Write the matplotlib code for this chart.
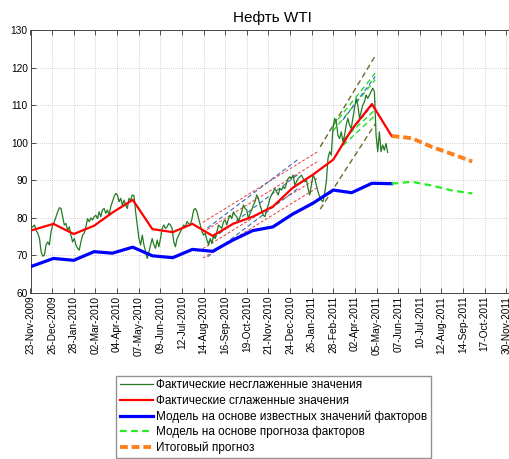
import numpy as np
import pandas as pd
import matplotlib
matplotlib.use("Agg")
import matplotlib.pyplot as plt
import matplotlib.dates as mdates

plt.rcParams['font.family'] = ['Liberation Sans', 'DejaVu Sans']

# Фактические несглаженные значения (через ~2.5 дня)
raw_start, raw_end = "2009-11-24", "2011-05-22"
raw_values = [
    77.4, 77.6, 78.1, 76.7, 75.9, 74.5, 71.0, 69.8, 70.1, 72.8, 73.6, 72.8, 76.3, 78.1, 79.0, 80.3,
    81.6, 82.7, 82.5, 80.3, 78.1, 78.5, 76.7, 77.6, 75.4, 73.6, 74.5, 72.8, 71.9, 71.4, 73.6, 75.4,
    75.9, 77.6, 79.8, 79.0, 80.0, 79.4, 80.3, 80.7, 79.8, 81.6, 80.3, 82.1, 82.5, 81.2, 82.1, 80.7,
    83.0, 84.3, 85.6, 86.5, 86.1, 84.3, 85.2, 83.4, 84.7, 83.4, 82.5, 85.2, 84.7, 86.1, 85.9, 81.6,
    78.1, 74.5, 72.8, 75.4, 72.8, 71.0, 69.2, 71.0, 72.8, 74.5, 72.8, 71.9, 74.1, 72.3, 74.5, 77.2,
    78.1, 77.2, 77.6, 78.5, 78.1, 77.2, 73.6, 72.3, 74.5, 75.4, 76.3, 77.2, 78.1, 77.6, 79.0, 78.5,
    78.1, 79.8, 82.1, 82.5, 81.6, 79.8, 78.1, 76.3, 75.4, 75.9, 74.1, 72.8, 74.5, 73.2, 75.4, 74.5,
    76.3, 78.1, 77.6, 77.2, 79.0, 79.4, 78.1, 79.8, 80.7, 79.8, 81.6, 80.7, 80.3, 79.0, 80.3, 81.6,
    83.4, 82.5, 82.1, 79.8, 81.2, 82.1, 83.4, 84.3, 86.1, 85.2, 83.4, 82.1, 80.7, 80.3, 82.1, 83.4,
    85.2, 86.1, 86.9, 87.8, 86.9, 86.1, 87.8, 87.4, 88.3, 87.8, 89.2, 90.5, 90.9, 90.5, 91.4, 88.7,
    89.6, 90.5, 90.9, 91.4, 90.5, 89.6, 90.1, 87.8, 86.1, 88.7, 91.4, 90.5, 88.7, 86.9, 85.6, 84.7,
    84.3, 86.5, 89.6, 95.8, 97.6, 96.7, 103.8, 106.5, 105.6, 102.0, 101.1, 102.9, 100.3, 102.0, 104.7, 106.5,
    104.7, 103.8, 106.5, 109.1, 111.8, 110.0, 106.5, 108.2, 110.0, 110.9, 112.7, 111.8, 112.7, 113.6, 114.5, 113.6,
    102.0, 97.6, 102.9, 97.6, 99.4, 98.0, 99.8, 97.4,
]

# Месячные узлы: сглаженные значения и модель
month_dates = [
    "2009-11-23", "2009-12-28", "2010-01-28", "2010-02-28", "2010-03-28", "2010-04-28",
    "2010-05-28", "2010-06-28", "2010-07-28", "2010-08-28", "2010-09-28", "2010-10-28",
    "2010-11-28", "2010-12-28", "2011-01-28", "2011-02-28", "2011-03-28", "2011-04-28",
    "2011-05-28",
]
smoothed = [76.6, 78.4, 75.7, 77.9, 81.4, 84.8, 77.0, 76.2, 78.4, 75.2, 78.4, 80.3,
            83.0, 88.0, 91.5, 95.5, 103.5, 110.3, 101.8]
model_known = [67.0, 69.2, 68.7, 71.0, 70.6, 72.2, 69.9, 69.4, 71.6, 71.1, 74.1, 76.6,
               77.6, 81.0, 83.9, 87.4, 86.7, 89.2, 89.1]

# Прогноз
fc_dates = ["2011-05-28", "2011-06-28", "2011-07-28", "2011-08-28", "2011-09-28"]
model_fc = [89.1, 89.6, 88.6, 87.3, 86.5]
final_fc = [101.8, 101.2, 98.9, 97.0, 95.0]

# Трендовые каналы: (начало, конец, значения в начале, значения в конце)
red_chan = ("2010-08-13", "2011-02-06", [78.8, 76.2, 71.8, 69.3], [97.8, 95.2, 90.8, 88.3])
blue_chan = ("2010-08-20", "2011-01-07", [77.3, 73.4, 69.6], [95.8, 91.8, 88.1])
olive_chan = ("2011-02-08", "2011-05-03", [98.9, 82.3], [123.1, 105.0])
green_chan_hi = ("2011-02-27", "2011-05-03", [104.4, 103.0], [118.5, 116.8])
green_chan_lo = ("2011-03-15", "2011-05-03", [100.8, 99.3], [108.8, 107.3])
blue_chan2 = ("2011-03-15", "2011-05-03", [106.1, 100.4], [117.6, 111.0])

tick_labels = [
    "23-Nov-2009", "26-Dec-2009", "28-Jan-2010", "02-Mar-2010", "04-Apr-2010", "07-May-2010",
    "09-Jun-2010", "12-Jul-2010", "14-Aug-2010", "16-Sep-2010", "19-Oct-2010", "21-Nov-2010",
    "24-Dec-2010", "26-Jan-2011", "28-Feb-2011", "02-Apr-2011", "05-May-2011", "07-Jun-2011",
    "10-Jul-2011", "12-Aug-2011", "14-Sep-2011", "17-Oct-2011", "30-Nov-2011",
]

fig = plt.figure(figsize=(5.09, 4.59), dpi=100)
ax = fig.add_axes([30.5 / 509, 166 / 459, 483 / 509, 263 / 459])

raw_dates = pd.date_range(raw_start, raw_end, periods=len(raw_values))
h_raw, = ax.plot(raw_dates, raw_values, color="#237a23", lw=0.9, zorder=3)


def draw_channel(chan, color, lw, dashes):
    d0, d1, v0, v1 = chan
    dd = pd.to_datetime([d0, d1])
    for a, b in zip(v0, v1):
        ax.plot(dd, [a, b], color=color, lw=lw, dashes=dashes, zorder=2)


draw_channel(red_chan, "#e83a3a", 0.7, (3, 2))
draw_channel(blue_chan, "#3a6ab0", 0.8, (4, 2.5))
draw_channel(olive_chan, "#6e6a2a", 1.0, (4, 2.5))
draw_channel(green_chan_hi, "#22dd22", 1.0, (4, 2.5))
draw_channel(green_chan_lo, "#22dd22", 1.0, (4, 2.5))
draw_channel(blue_chan2, "#2f55d0", 0.8, (4, 2.5))

md = pd.to_datetime(month_dates)
fd = pd.to_datetime(fc_dates)
h_sm, = ax.plot(md, smoothed, color="#ff0000", lw=1.6, zorder=4)
h_mk, = ax.plot(md, model_known, color="#0000ff", lw=2.3, zorder=4)
h_mf, = ax.plot(fd, model_fc, color="#22ee22", lw=1.6, dashes=(3, 2), zorder=4)
h_ff, = ax.plot(fd, final_fc, color="#ff7f1a", lw=2.8, dashes=(2, 1), zorder=4)

ticks = pd.date_range("2009-11-23", periods=len(tick_labels), freq="33D")
ax.set_xticks(ticks)
ax.set_xticklabels(tick_labels, rotation=90, fontsize=7.3)
ax.set_xlim(pd.Timestamp("2009-11-23"), pd.Timestamp("2011-11-30"))
ax.set_ylim(60, 130)
ax.set_yticks(np.arange(60, 131, 10))
ax.tick_params(axis="y", labelsize=7.3)
ax.tick_params(direction="in", top=True, right=True, length=3.5, width=0.6,
               color="#333333", pad=2)
ax.grid(True, ls=(0, (1, 2)), lw=0.5, color="#a8a8a8")
for s in ax.spines.values():
    s.set_color("#444444")
    s.set_linewidth(0.7)

ax.set_title("Нефть WTI", fontsize=11, pad=6)

fig.legend([h_raw, h_sm, h_mk, h_mf, h_ff],
           ["Фактические несглаженные значения",
            "Фактические сглаженные значения",
            "Модель на основе известных значений факторов",
            "Модель на основе прогноза факторов",
            "Итоговый прогноз"],
           loc="lower left", bbox_to_anchor=(116 / 509, 1 / 459),
           fontsize=8.5, frameon=True, fancybox=False, edgecolor="#777777",
           handlelength=2.8, handletextpad=0.3, labelspacing=0.3,
           borderpad=0.3, borderaxespad=0)

fig.savefig("out.png", dpi=100)
